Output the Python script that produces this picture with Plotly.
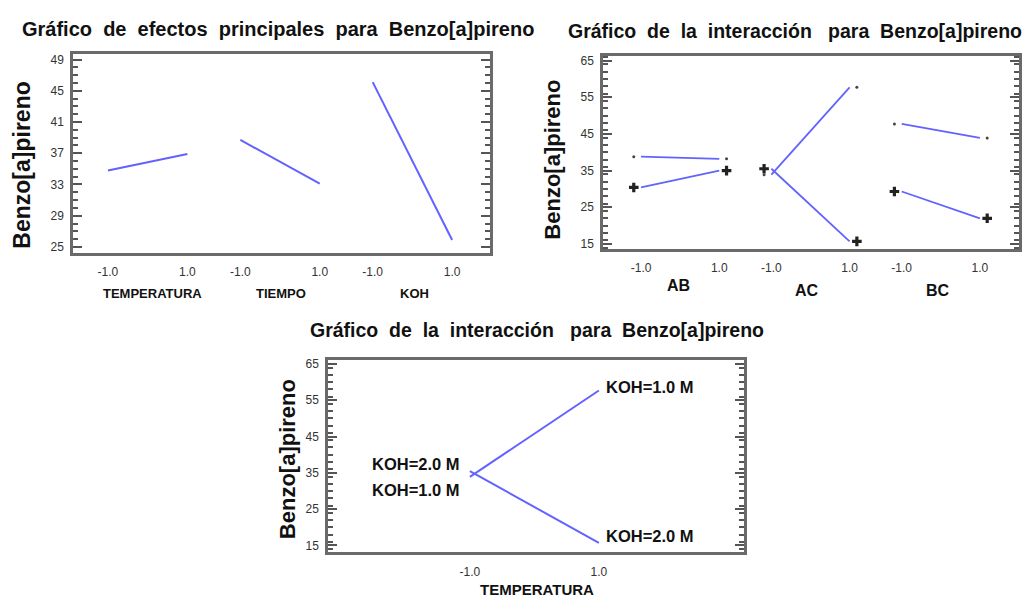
import plotly.graph_objects as go

FONT = "Liberation Sans"
BLUE = "#6262ff"
FRAME = "#6a6a6a"
TICK = "#555555"
TXT = "#111111"
W, H = 1027, 599

# ---- Main effects (level -1 / level +1) ----
main_factors = ["TEMPERATURA", "TIEMPO", "KOH"]
main_low = [34.8, 38.7, 46.1]
main_high = [36.9, 33.1, 25.9]

# ---- Two-factor interactions: first factor on x, second factor splits the lines ----
pairs = ["AB", "AC", "BC"]
minus_low = [38.8, 33.9, 47.7]   # second factor at -1
minus_high = [38.2, 57.7, 43.9]
plus_low = [30.4, 35.5, 29.3]    # second factor at +1
plus_high = [35.0, 15.7, 22.0]

# ---- TEMPERATURA x KOH interaction ----
temp_levels = [-1.0, 1.0]
koh_1M = [33.9, 57.7]
koh_2M = [35.5, 15.7]
koh_names = ["KOH=1.0 M", "KOH=2.0 M"]

level_labels = ["-1.0", "1.0"]
NB = "&nbsp;"
title_main = f"Gráfico {NB}de {NB}efectos {NB}principales {NB}para {NB}Benzo[a]pireno"
title_inter = f"Gráfico {NB}de {NB}la {NB}interacción {NB}{NB}para {NB}Benzo[a]pireno"
ytitle = "Benzo[a]pireno"


def pos(k, level):
    # three factor blocks side by side on one numeric axis
    return 5 * k + 1.5 * level


def px_dom(a, b, total):
    return [a / total, b / total]


def py_dom(top, bottom):
    return [1 - bottom / H, 1 - top / H]


fig = go.Figure()
ann = []

# main effects panel
for k, f in enumerate(main_factors):
    fig.add_trace(go.Scatter(x=[pos(k, -1), pos(k, 1)], y=[main_low[k], main_high[k]],
                             mode="lines", line=dict(color=BLUE, width=2),
                             xaxis="x", yaxis="y", showlegend=False, hoverinfo="skip"))

# interaction panel: lines plus level markers just outside the line ends
MARK_GAP = 0.28
plus_x, plus_y, minus_x, minus_y = [], [], [], []
for k, p in enumerate(pairs):
    xs = [pos(k, -1), pos(k, 1)]
    for lo, hi in ((minus_low[k], minus_high[k]), (plus_low[k], plus_high[k])):
        fig.add_trace(go.Scatter(x=xs, y=[lo, hi], mode="lines", line=dict(color=BLUE, width=1.8),
                                 xaxis="x2", yaxis="y2", showlegend=False, hoverinfo="skip"))
    minus_x += [xs[0] - MARK_GAP, xs[1] + MARK_GAP]
    minus_y += [minus_low[k], minus_high[k]]
    plus_x += [xs[0] - MARK_GAP, xs[1] + MARK_GAP]
    plus_y += [plus_low[k], plus_high[k]]
fig.add_trace(go.Scatter(x=plus_x, y=plus_y, mode="markers", xaxis="x2", yaxis="y2",
                         marker=dict(symbol="cross", size=8, color="#222222", line=dict(width=0)),
                         showlegend=False, hoverinfo="skip"))
fig.add_trace(go.Scatter(x=minus_x, y=minus_y, mode="markers", xaxis="x2", yaxis="y2",
                         marker=dict(symbol="circle", size=3, color="#444444", line=dict(width=0)),
                         showlegend=False, hoverinfo="skip"))

# TEMPERATURA x KOH panel
for series in (koh_1M, koh_2M):
    fig.add_trace(go.Scatter(x=temp_levels, y=series, mode="lines", line=dict(color=BLUE, width=2),
                             xaxis="x3", yaxis="y3", showlegend=False, hoverinfo="skip"))
lab_font = dict(family=FONT, size=16.5, color=TXT)
ann.append(dict(x=temp_levels[1], y=koh_1M[1], xref="x3", yref="y3", text=f"<b>{koh_names[0]}</b>",
                showarrow=False, xanchor="left", xshift=5, yshift=3, font=lab_font))
ann.append(dict(x=temp_levels[1], y=koh_2M[1], xref="x3", yref="y3", text=f"<b>{koh_names[1]}</b>",
                showarrow=False, xanchor="left", xshift=5, yshift=7, font=lab_font))
ann.append(dict(x=temp_levels[0], y=koh_2M[0], xref="x3", yref="y3", text=f"<b>{koh_names[1]}</b>",
                showarrow=False, xanchor="right", xshift=-8, yshift=7, font=lab_font))
ann.append(dict(x=temp_levels[0], y=koh_1M[0], xref="x3", yref="y3", text=f"<b>{koh_names[0]}</b>",
                showarrow=False, xanchor="right", xshift=-8, yshift=-13, font=lab_font))


def yaxis(dom, rng, dtick, tick0, minor):
    return dict(domain=dom, range=rng, dtick=dtick, tick0=tick0, showgrid=False, zeroline=False,
                showline=True, linecolor=FRAME, linewidth=2.5, mirror="ticks",
                ticks="inside", ticklen=9, tickwidth=2, tickcolor=TICK,
                minor=dict(dtick=minor, ticks="inside", ticklen=5, tickwidth=1.5, tickcolor=TICK),
                tickfont=dict(family=FONT, size=12, color="#333"), ticklabelstandoff=4)


def xaxis(dom, rng, vals, texts, anchor):
    return dict(domain=dom, range=rng, tickvals=vals, ticktext=texts, anchor=anchor,
                showgrid=False, zeroline=False, showline=True, linecolor=FRAME, linewidth=2.5,
                mirror=True, ticks="", tickfont=dict(family=FONT, size=12, color="#333"),
                ticklabelstandoff=6)


vals6 = [pos(k, l) for k in range(3) for l in (-1, 1)]
texts6 = level_labels * 3

fig.update_layout(
    width=W, height=H, autosize=False, margin=dict(l=0, r=0, t=0, b=0),
    paper_bgcolor="white", plot_bgcolor="white",
    xaxis=xaxis(px_dom(73, 490, W), [-2.82, 12.93], vals6, texts6, "y"),
    yaxis=yaxis(py_dom(51, 252), [24.24, 49.76], 4, 25, 1) | dict(anchor="x"),
    xaxis2=xaxis(px_dom(603, 1019, W), [-2.96, 13.0], vals6, texts6, "y2"),
    yaxis2=yaxis(py_dom(53, 248), [13.65, 66.35], 10, 15, 2) | dict(anchor="x2"),
    xaxis3=xaxis(px_dom(328, 744, W), [-3.2, 3.25], temp_levels, level_labels, "y3"),
    yaxis3=yaxis(py_dom(360, 554), [13.1, 66.1], 10, 15, 2) | dict(anchor="x3"),
)


def paper_text(x, y, text, size, bold=True, angle=0, xanchor="center"):
    t = f"<b>{text}</b>" if bold else text
    return dict(x=x / W, y=1 - y / H, xref="paper", yref="paper", text=t, showarrow=False,
                xanchor=xanchor, yanchor="middle", textangle=angle,
                font=dict(family=FONT, size=size, color=TXT))


# titles
ann.append(paper_text(20, 26, title_main, 20, xanchor="left"))
ann.append(paper_text(566, 28, title_inter, 19.5, xanchor="left"))
ann.append(paper_text(308, 330, title_inter, 19.5, xanchor="left"))
# y-axis titles
ann.append(paper_text(22, 164, ytitle, 23, angle=-90))
ann.append(paper_text(553, 158, ytitle, 22, angle=-90))
ann.append(paper_text(287, 460, ytitle, 22, angle=-90))
# factor names under the blocks
for f, cx in zip(main_factors, [152, 281, 414]):
    ann.append(paper_text(cx, 293, f, 13))
for p, cx, cy in zip(pairs, [678, 807, 938], [285, 290, 290]):
    ann.append(paper_text(cx, cy, p, 16))
ann.append(paper_text(537, 591, "TEMPERATURA", 15))

fig.update_layout(annotations=ann)
fig.write_html("out.html")
